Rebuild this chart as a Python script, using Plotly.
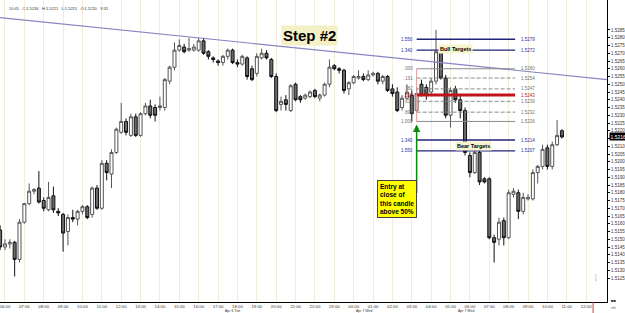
import plotly.graph_objects as go
import pandas as pd

# ---------------- data ----------------
bar_start = "2010-04-06 05:45"   # 15-minute bars

opens = [1.5156, 1.5145, 1.5147, 1.5148, 1.5137, 1.5161, 1.5173, 1.5181, 1.5183, 1.5175,
         1.5169, 1.5178, 1.5168, 1.5166, 1.5155, 1.5164, 1.5163, 1.5168, 1.5171, 1.5166,
         1.5183, 1.5170, 1.5199, 1.5192, 1.5206, 1.5219, 1.5226, 1.5217, 1.5229, 1.5217,
         1.5231, 1.5236, 1.5235, 1.5235, 1.5235, 1.5252, 1.5261, 1.5272, 1.5274, 1.5272,
         1.5272, 1.5272, 1.5278, 1.5271, 1.5267, 1.5265, 1.5264, 1.5268, 1.5272, 1.5264,
         1.5263, 1.5267, 1.5260, 1.5257, 1.5267, 1.5270, 1.5266, 1.5255, 1.5237, 1.5240,
         1.5233, 1.5250, 1.5242, 1.5241, 1.5242, 1.5246, 1.5241, 1.5243, 1.5250, 1.5262,
         1.5260, 1.5259, 1.5247, 1.5251, 1.5254, 1.5255, 1.5253, 1.5256, 1.5257, 1.5252,
         1.5255, 1.5247, 1.5245, 1.5235, 1.5241, 1.5243, 1.5233, 1.5250, 1.5248, 1.5245,
         1.5252, 1.5272, 1.5254, 1.5230, 1.5247, 1.5240, 1.5233, 1.5204, 1.5193, 1.5206,
         1.5189, 1.5189, 1.5151, 1.5150, 1.5162, 1.5151, 1.5179, 1.5180, 1.5168, 1.5176,
         1.5176, 1.5193, 1.5197, 1.5209, 1.5197, 1.5211, 1.5220]
highs = [1.5159, 1.5150, 1.5150, 1.5149, 1.5163, 1.5173, 1.5186, 1.5183, 1.5194, 1.5177,
         1.5187, 1.5184, 1.5170, 1.5167, 1.5166, 1.5169, 1.5169, 1.5172, 1.5172, 1.5184,
         1.5185, 1.5201, 1.5201, 1.5208, 1.5222, 1.5238, 1.5228, 1.5231, 1.5231, 1.5232,
         1.5238, 1.5240, 1.5237, 1.5242, 1.5254, 1.5262, 1.5277, 1.5279, 1.5276, 1.5280,
         1.5276, 1.5280, 1.5280, 1.5272, 1.5268, 1.5266, 1.5269, 1.5273, 1.5273, 1.5266,
         1.5269, 1.5268, 1.5262, 1.5270, 1.5273, 1.5272, 1.5267, 1.5257, 1.5242, 1.5243,
         1.5250, 1.5251, 1.5243, 1.5244, 1.5246, 1.5247, 1.5244, 1.5251, 1.5266, 1.5263,
         1.5261, 1.5260, 1.5252, 1.5256, 1.5259, 1.5257, 1.5259, 1.5258, 1.5258, 1.5256,
         1.5256, 1.5250, 1.5248, 1.5243, 1.5250, 1.5246, 1.5248, 1.5253, 1.5250, 1.5254,
         1.5285, 1.5275, 1.5256, 1.5248, 1.5249, 1.5243, 1.5235, 1.5206, 1.5208, 1.5208,
         1.5190, 1.5190, 1.5153, 1.5164, 1.5164, 1.5182, 1.5183, 1.5182, 1.5180, 1.5179,
         1.5195, 1.5198, 1.5211, 1.5211, 1.5213, 1.5227, 1.5221]
lows = [1.5143, 1.5143, 1.5144, 1.5126, 1.5135, 1.5160, 1.5172, 1.5179, 1.5173, 1.5168,
        1.5168, 1.5167, 1.5165, 1.5142, 1.5146, 1.5161, 1.5159, 1.5166, 1.5163, 1.5164,
        1.5169, 1.5169, 1.5188, 1.5183, 1.5205, 1.5218, 1.5217, 1.5216, 1.5216, 1.5216,
        1.5230, 1.5228, 1.5226, 1.5233, 1.5233, 1.5250, 1.5259, 1.5271, 1.5270, 1.5271,
        1.5271, 1.5271, 1.5269, 1.5266, 1.5264, 1.5262, 1.5262, 1.5266, 1.5263, 1.5261,
        1.5262, 1.5253, 1.5252, 1.5255, 1.5266, 1.5266, 1.5254, 1.5232, 1.5233, 1.5233,
        1.5232, 1.5239, 1.5238, 1.5240, 1.5241, 1.5241, 1.5239, 1.5242, 1.5248, 1.5259,
        1.5257, 1.5244, 1.5243, 1.5250, 1.5253, 1.5252, 1.5252, 1.5255, 1.5250, 1.5250,
        1.5245, 1.5242, 1.5232, 1.5233, 1.5240, 1.5226, 1.5232, 1.5242, 1.5240, 1.5243,
        1.5250, 1.5253, 1.5228, 1.5222, 1.5238, 1.5228, 1.5204, 1.5190, 1.5192, 1.5185,
        1.5186, 1.5150, 1.5135, 1.5146, 1.5146, 1.5150, 1.5177, 1.5163, 1.5166, 1.5175,
        1.5175, 1.5186, 1.5195, 1.5195, 1.5195, 1.5210, 1.5215]
closes = [1.5145, 1.5147, 1.5148, 1.5137, 1.5161, 1.5173, 1.5181, 1.5182, 1.5174, 1.5170,
          1.5177, 1.5169, 1.5167, 1.5154, 1.5164, 1.5163, 1.5168, 1.5171, 1.5164, 1.5183,
          1.5170, 1.5199, 1.5193, 1.5206, 1.5221, 1.5226, 1.5219, 1.5229, 1.5217, 1.5231,
          1.5236, 1.5230, 1.5230, 1.5236, 1.5253, 1.5261, 1.5272, 1.5275, 1.5271, 1.5273,
          1.5274, 1.5278, 1.5270, 1.5268, 1.5266, 1.5264, 1.5268, 1.5272, 1.5264, 1.5263,
          1.5268, 1.5255, 1.5253, 1.5268, 1.5270, 1.5267, 1.5255, 1.5233, 1.5239, 1.5237,
          1.5249, 1.5240, 1.5240, 1.5243, 1.5245, 1.5242, 1.5243, 1.5250, 1.5261, 1.5260,
          1.5259, 1.5246, 1.5251, 1.5255, 1.5255, 1.5253, 1.5256, 1.5257, 1.5252, 1.5255,
          1.5246, 1.5244, 1.5233, 1.5241, 1.5245, 1.5231, 1.5244, 1.5243, 1.5243, 1.5252,
          1.5271, 1.5254, 1.5230, 1.5246, 1.5240, 1.5233, 1.5206, 1.5193, 1.5206, 1.5187,
          1.5187, 1.5151, 1.5148, 1.5161, 1.5151, 1.5180, 1.5181, 1.5168, 1.5177, 1.5177,
          1.5193, 1.5197, 1.5208, 1.5197, 1.5211, 1.5217, 1.5216]

# Fibonacci levels
fib_start = "2010-04-07 03:15"
fib_end = "2010-04-07 08:20"
fib_prices = [1.5279, 1.5272, 1.5260, 1.5254, 1.5247, 1.5243, 1.5239, 1.5232, 1.5226, 1.5214, 1.5207]
fib_left_labels = ["1.550", "1.340", ".000", ".191", ".382", ".500", ".618", ".809", "1.000", "1.340", "1.550"]
fib_right_labels = ["1.5279", "1.5272", "1.5260", "1.5254", "1.5247", "1.5243", "1.5239", "1.5232", "1.5226", "1.5214", "1.5207"]
fib_kinds = ["target", "target", "edge", "dash", "dash", "mid", "dash", "dash", "edge", "target", "target"]

# trend line
trend_times = ["2010-04-06 05:44:37", "2010-04-07 13:04:37"]
trend_prices = [1.5293, 1.5253]

# axes
x_range = ["2010-04-06 05:44:37", "2010-04-07 13:04:37"]
y_range = [1.510952, 1.530435]
y_ticks = [1.5125, 1.5130, 1.5135, 1.5140, 1.5145, 1.5150, 1.5155, 1.5160, 1.5165, 1.5170,
           1.5175, 1.5180, 1.5185, 1.5190, 1.5195, 1.5200, 1.5205, 1.5210, 1.5215, 1.5220,
           1.5225, 1.5230, 1.5235, 1.5240, 1.5245, 1.5250, 1.5255, 1.5260, 1.5265, 1.5270,
           1.5275, 1.5280, 1.5285]
hour_ticks = pd.date_range("2010-04-06 06:00", "2010-04-07 12:00", freq="1h")
hour_labels = [t.strftime("%H:%M") for t in hour_ticks]
day_label_times = ["2010-04-06 17:44", "2010-04-07 00:34", "2010-04-07 05:48"]
day_labels = ["Apr 6 Tue", "Apr 7 Wed", "Apr 7 Wed"]

last_price = 1.5216
entry_bar = "2010-04-07 03:15"
entry_arrow_price = 1.5224
header = "10:45&nbsp;&nbsp;&nbsp;C:1.5216&nbsp;&nbsp;&nbsp;H:1.5221&nbsp;&nbsp;&nbsp;L:1.5215&nbsp;&nbsp;&nbsp;O:1.5220&nbsp;&nbsp;&nbsp;V:31"

# ---------------- figure ----------------
W, H = 625, 313
ML, MR, MT, MB = 0, 14, 0, 11
PW, PH = W - ML - MR, H - MT - MB


def px(x):
    return x / PW


def py(y):
    return 1 - y / PH


FONT = "Liberation Sans, Arial, sans-serif"
times = pd.date_range(bar_start, periods=len(opens), freq="15min")
y_ticktext = ["" if abs(v - 1.5215) < 1e-9 else f"{v:.4f}" for v in y_ticks]

fig = go.Figure()

fig.add_trace(go.Scatter(x=trend_times, y=trend_prices, mode="lines",
                         line=dict(color="#8585c2", width=1.2), hoverinfo="skip"))

fig.add_trace(go.Candlestick(
    x=times, open=opens, high=highs, low=lows, close=closes,
    increasing=dict(fillcolor="white", line=dict(color="#555555", width=1)),
    decreasing=dict(fillcolor="#6a6a6a", line=dict(color="#111111", width=1)),
    whiskerwidth=0, hoverinfo="skip"))

style = {
    "target": dict(color="#23237a", width=1.4, dash="solid"),
    "edge": dict(color="#8a8a8a", width=1, dash="solid"),
    "dash": dict(color="#8a8a8a", width=1, dash="4px,2px"),
    "mid": dict(color="#c0141a", width=3, dash="solid"),
}
label_color = {"target": "#2c2c9a", "edge": "#707070", "dash": "#707070", "mid": "#c0141a"}

for p, kind in zip(fib_prices, fib_kinds):
    fig.add_trace(go.Scatter(x=[fib_start, fib_end], y=[p, p], mode="lines",
                             line=style[kind], hoverinfo="skip"))

# pink vertical anchor line
fig.add_trace(go.Scatter(x=[fib_start, fib_start], y=[fib_prices[2], fib_prices[8]], mode="lines",
                         line=dict(color="#e39a9a", width=1), hoverinfo="skip"))

annotations = []
for p, kind, ll, rl in zip(fib_prices, fib_kinds, fib_left_labels, fib_right_labels):
    annotations.append(dict(xref="paper", yref="y", x=px(418), y=p, text=ll, showarrow=False,
                            xanchor="right", yanchor="middle",
                            font=dict(size=4.5, color=label_color[kind], family=FONT)))
    annotations.append(dict(xref="paper", yref="y", x=px(522), y=p, text=rl, showarrow=False,
                            xanchor="left", yanchor="middle",
                            font=dict(size=4.5, color=label_color[kind], family=FONT)))

annotations += [
    dict(xref="paper", yref="paper", x=px(312), y=py(25), text="<b>Step #2</b>", showarrow=False,
         font=dict(size=15, color="black", family=FONT), bgcolor="#f4f0c6", borderpad=1),
    dict(xref="paper", yref="paper", x=px(476), y=py(44), text="<b>Bull Targets</b>", showarrow=False,
         font=dict(size=5.5, color="black", family=FONT), bgcolor="#f6f3cf", borderpad=1),
    dict(xref="paper", yref="paper", x=px(495), y=py(146), text="<b>Bear Targets</b>", showarrow=False,
         font=dict(size=5.5, color="black", family=FONT), bgcolor="#f6f3cf", borderpad=1),
    dict(xref="x", yref="y", x=entry_bar, y=entry_arrow_price, ax=0, ay=70, text="", showarrow=True,
         arrowhead=2, arrowsize=1, arrowwidth=1.5, arrowcolor="#0a8a0a"),
    dict(xref="paper", yref="paper", x=px(420), y=py(217.5),
         text="<b>Entry at<br>close of<br>this candle<br>above 50%</b>", showarrow=False, align="left",
         font=dict(size=6.5, color="black", family=FONT), bgcolor="#ffff00",
         bordercolor="#444444", borderwidth=1, borderpad=2),
    dict(xref="paper", yref="y", x=1.003, y=last_price, text=f"{last_price:.4f}", showarrow=False,
         xanchor="left", font=dict(size=5, color="white", family=FONT), bgcolor="black", borderpad=0.5),
    dict(xref="paper", yref="paper", x=px(7), y=py(4), text=header, showarrow=False,
         xanchor="left", font=dict(size=4, color="#333333", family=FONT)),
    dict(xref="paper", yref="paper", x=px(603), y=py(284), text="1<br>5", showarrow=False,
         font=dict(size=3, color="#d04040", family=FONT)),
    dict(xref="paper", yref="paper", x=px(618), y=-9.5 / PH, text="efx", showarrow=False, xanchor="center",
         font=dict(size=3.5, color="#555555", family=FONT)),
    dict(xref="paper", yref="paper", x=px(618), y=-3.5 / PH, text="■■", showarrow=False, xanchor="center",
         font=dict(size=4, color="#222222", family=FONT)),
]
for t, lab in zip(day_label_times, day_labels):
    annotations.append(dict(xref="x", yref="paper", x=t, y=-8.6 / PH, text=lab, showarrow=False,
                            yanchor="middle", font=dict(size=3.5, color="#333333", family=FONT)))

fig.update_layout(
    width=W, height=H, margin=dict(l=ML, r=MR, t=MT, b=MB),
    paper_bgcolor="white", plot_bgcolor="white", showlegend=False,
    boxgap=0.12,
    annotations=annotations,
    shapes=[dict(type="line", xref="paper", yref="paper", x0=px(597), x1=px(597), y0=-MB / PH, y1=0,
                 line=dict(color="#d04040", width=1))],
    xaxis=dict(type="date", range=x_range, rangeslider=dict(visible=False),
               tickvals=hour_ticks, ticktext=hour_labels, showgrid=True, gridcolor="#f1edda", gridwidth=1,
               showline=True, linecolor="black", linewidth=1, ticks="", ticklen=0,
               tickfont=dict(size=4.3, color="#333333", family=FONT),
               ticklabeloverflow="allow", zeroline=False, fixedrange=True),
    yaxis=dict(side="right", range=y_range, tickvals=y_ticks, ticktext=y_ticktext, showgrid=False,
               showline=True, linecolor="black", linewidth=1, ticks="outside", ticklen=2, tickcolor="black",
               tickfont=dict(size=4.5, color="#333333", family=FONT), zeroline=False, fixedrange=True),
)

fig.write_html("out.html")
